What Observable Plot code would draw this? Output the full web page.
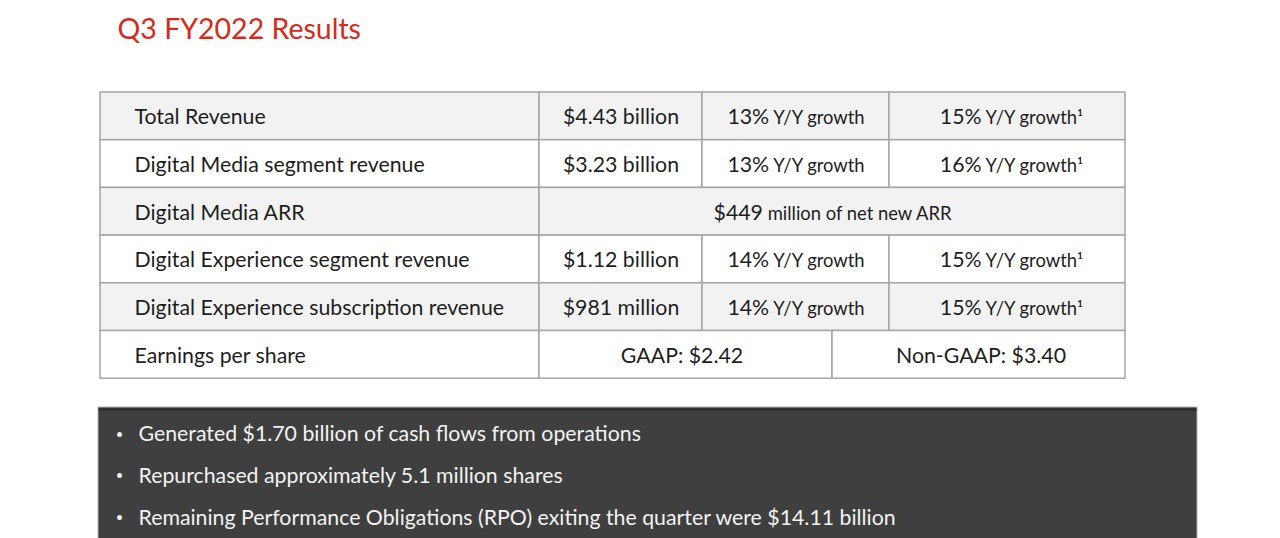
<!DOCTYPE html>
<html>
<head>
<meta charset="utf-8">
<script src="https://cdn.jsdelivr.net/npm/d3@7"></script>
<script src="https://cdn.jsdelivr.net/npm/@observablehq/plot@0.6"></script>
<style>
  html, body { margin: 0; padding: 0; background: #ffffff; }
  #chart svg { display: block; }
</style>
</head>
<body>
<div id="chart"></div>
<script>
// ---------- data ----------
const title = "Q3 FY2022 Results";
const metrics = [
  "Total Revenue",
  "Digital Media segment revenue",
  "Digital Media ARR",
  "Digital Experience segment revenue",
  "Digital Experience subscription revenue",
  "Earnings per share"
];
const amounts = ["$4.43 billion", "$3.23 billion", null, "$1.12 billion", "$981 million", null];
const growthYY = [13, 13, null, 14, 14, null];
const growthAdjusted = [15, 16, null, 15, 15, null];
const netNewARRMillions = 449;
const epsGAAP = 2.42;
const epsNonGAAP = 3.40;
const bullets = [
  "Generated $1.70 billion of cash flows from operations",
  "Repurchased approximately 5.1 million shares",
  "Remaining Performance Obligations (RPO) exiting the quarter were $14.11 billion"
];

// ---------- layout ----------
const W = 1280, H = 538;
const FONT = "Lato, 'Open Sans', sans-serif";
const MAIN = 21.3, SMALL = 18.4;
const tableTop = 92, rowH = 47.7;
const colEdges = [100, 539, 702, 889, 1125];
const epsSplit = 832;
const labelPad = 34;
const box = {x1: 98, x2: 1197, y1: 407, y2: 545};
const bulletTop = 434, bulletStep = 41.8;

// ---------- build cells ----------
const cells = [];
metrics.forEach((m, i) => {
  const y1 = tableTop + i * rowH, y2 = y1 + rowH;
  const fill = i % 2 === 0 ? "#f2f2f2" : "#ffffff";
  cells.push({x1: colEdges[0], x2: colEdges[1], y1, y2, fill, text: m, anchor: "start"});
  if (growthYY[i] != null) {
    cells.push({x1: colEdges[1], x2: colEdges[2], y1, y2, fill, text: amounts[i], anchor: "middle"});
    cells.push({x1: colEdges[2], x2: colEdges[3], y1, y2, fill, text: `${growthYY[i]}%|Y/Y growth`, anchor: "middle"});
    cells.push({x1: colEdges[3], x2: colEdges[4], y1, y2, fill, text: `${growthAdjusted[i]}%|Y/Y growth¹`, anchor: "middle", shift: 4});
  } else if (i === 2) {
    cells.push({x1: colEdges[1], x2: colEdges[4], y1, y2, fill, text: `$${netNewARRMillions}|million of net new ARR`, anchor: "middle"});
  } else {
    cells.push({x1: colEdges[1], x2: epsSplit, y1, y2, fill, text: `GAAP: $${epsGAAP.toFixed(2)}`, anchor: "middle", shift: -4});
    cells.push({x1: epsSplit, x2: colEdges[4], y1, y2, fill, text: `Non-GAAP: $${epsNonGAAP.toFixed(2)}`, anchor: "middle", shift: 2});
  }
});
cells.forEach(c => {
  c.tx = c.anchor === "start" ? c.x1 + labelPad : (c.x1 + c.x2) / 2 + (c.shift || 0);
  c.ty = (c.y1 + c.y2) / 2 + 1;
});
const startCells = cells.filter(c => c.anchor === "start");
const midCells = cells.filter(c => c.anchor === "middle");
const bulletRows = bullets.map((b, i) => ({text: b, y: bulletTop + i * bulletStep}));

const chart = Plot.plot({
  width: W,
  height: H,
  margin: 0,
  style: {fontFamily: FONT, background: "#ffffff", overflow: "hidden"},
  x: {type: "linear", domain: [0, W], range: [0, W], axis: null},
  y: {type: "linear", domain: [0, H], range: [0, H], axis: null},
  marks: [
    Plot.text([title], {x: 117, y: 29, text: d => d, textAnchor: "start", fontSize: 28.5, fill: "#d9291c", fontFamily: FONT}),
    Plot.rect(cells, {x1: "x1", x2: "x2", y1: "y1", y2: "y2", fill: "fill", stroke: "#a6a6a6", strokeWidth: 1.5}),
    Plot.text(startCells, {x: "tx", y: "ty", text: "text", textAnchor: "start", fontSize: MAIN, fill: "#1e1e1e", fontFamily: FONT}),
    Plot.text(midCells, {x: "tx", y: "ty", text: "text", textAnchor: "middle", fontSize: MAIN, fill: "#1e1e1e", fontFamily: FONT}),
    Plot.rect([box], {x1: "x1", x2: "x2", y1: "y1", y2: "y2", fill: "#3f3f3f", stroke: "#b5b5b5", strokeWidth: 1}),
    Plot.ruleY([box], {y: d => d.y1 + 2, x1: d => d.x1 + 0.5, x2: d => d.x2 - 0.5, stroke: "#2e2e2e", strokeWidth: 2.5}),
    Plot.text(bulletRows, {x: 119, y: "y", text: () => "•", textAnchor: "middle", fontSize: 13, fill: "#f2f2f2", fontFamily: FONT}),
    Plot.text(bulletRows, {x: 138, y: "y", text: "text", textAnchor: "start", fontSize: MAIN, fill: "#f2f2f2", fontFamily: FONT})
  ]
});

// split "big|small" texts into two tspans with different sizes
d3.select(chart).selectAll("text").each(function() {
  const t = this.textContent;
  if (t.includes("|")) {
    const [a, b] = t.split("|");
    const sel = d3.select(this);
    sel.text(null);
    sel.append("tspan").text(a);
    sel.append("tspan").attr("font-size", SMALL).text(" " + b);
  }
});

document.getElementById("chart").appendChild(chart);
</script>
</body>
</html>
